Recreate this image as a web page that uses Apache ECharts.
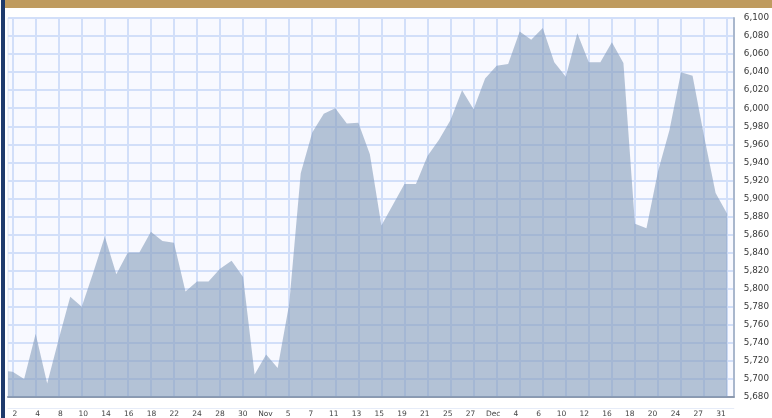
<!DOCTYPE html>
<html>
<head>
<meta charset="utf-8">
<script src="https://cdn.jsdelivr.net/npm/echarts@6/dist/echarts.min.js"></script>
<style>
  html, body { margin: 0; padding: 0; background: #ffffff; }
  #chart { position: absolute; left: 0; top: 0; width: 772px; height: 418px; }
  #goldbar { position: absolute; left: 5px; top: 0; width: 767px; height: 8px; background: #bf9b5f; }
  #navybar { position: absolute; left: 1px; top: 0; width: 4px; height: 418px; background: #1e3a6c; }
</style>
</head>
<body>
<div id="chart"></div>
<div id="goldbar"></div>
<div id="navybar"></div>
<script>
// Closing values, one per trading day (first value is the partly hidden day before Oct 2)
const values = [
  5709, 5708, 5700, 5750, 5695, 5744, 5791, 5780, 5818, 5858,
  5816, 5840, 5840, 5863, 5853, 5851, 5797, 5808, 5808, 5822,
  5831, 5813, 5705, 5727, 5712, 5783, 5928, 5973, 5994, 6000,
  5983, 5984, 5949, 5870, 5893, 5916, 5916, 5947, 5965, 5987,
  6020, 5999, 6033, 6047, 6049, 6085, 6076, 6089, 6051, 6035,
  6083, 6051, 6051, 6073, 6050, 5872, 5867, 5930, 5976, 6040,
  6036, 5969, 5906, 5883
];
// Tick labels, one for every second trading day
const tickLabels = ['2','4','8','10','14','16','18','22','24','28','30','Nov','5','7','11','13','15',
  '19','21','25','27','Dec','4','6','10','12','16','18','20','24','27','31'];
const yMin = 5680, yMax = 6100, yStep = 20;

const seriesData = values.map((v, i) => [i - 1, v]);
const tickIdx = tickLabels.map((_, k) => 2 * k);
const labelIdx = tickLabels.map((_, k) => k);

const chart = echarts.init(document.getElementById('chart'), null, { renderer: 'canvas' });
chart.setOption({
  animation: false,
  backgroundColor: 'transparent',
  grid: {
    left: 8, right: 31, top: 18, bottom: 21,
    show: true, backgroundColor: '#f8f9ff', borderColor: '#e1e8f5', borderWidth: 1,
    containLabel: false
  },
  xAxis: [
    {
      type: 'value', min: -0.4, max: 62.58,
      axisLine: { show: true, onZero: false, lineStyle: { color: '#8c99ae', width: 2 } },
      axisTick: { show: false, customValues: tickIdx },
      axisLabel: { show: false, customValues: tickIdx },
      splitLine: { show: true, lineStyle: { color: '#d2dff9', width: 2 } }
    },
    {
      type: 'value', min: -0.304, max: 31.565, position: 'bottom', offset: 11,
      axisLine: { show: true, onZero: false, lineStyle: { color: '#e6ecf8', width: 1 } },
      axisTick: { show: false, customValues: labelIdx },
      axisLabel: {
        show: true, customValues: labelIdx, margin: 2,
        fontFamily: 'DejaVu Sans', fontSize: 7.5, color: '#444444',
        formatter: v => tickLabels[Math.round(v)] || ''
      },
      splitLine: { show: false }
    }
  ],
  yAxis: {
    type: 'value', position: 'right', min: yMin, max: yMax, interval: yStep,
    axisLine: { show: true, onZero: false, lineStyle: { color: '#a9b7cd', width: 2 } },
    axisTick: { show: false },
    axisLabel: {
      margin: 10, fontFamily: 'DejaVu Sans', fontSize: 8.8, color: '#383838',
      formatter: v => v.toLocaleString('en-US')
    },
    splitLine: { show: true, lineStyle: { color: '#d2dff9', width: 2 } }
  },
  series: [{
    type: 'line',
    xAxisIndex: 0,
    data: seriesData,
    showSymbol: false,
    clip: true,
    lineStyle: { width: 0, opacity: 0 },
    areaStyle: { color: 'rgb(134,156,186)', opacity: 0.6, origin: 'start' }
  }]
});
</script>
</body>
</html>
